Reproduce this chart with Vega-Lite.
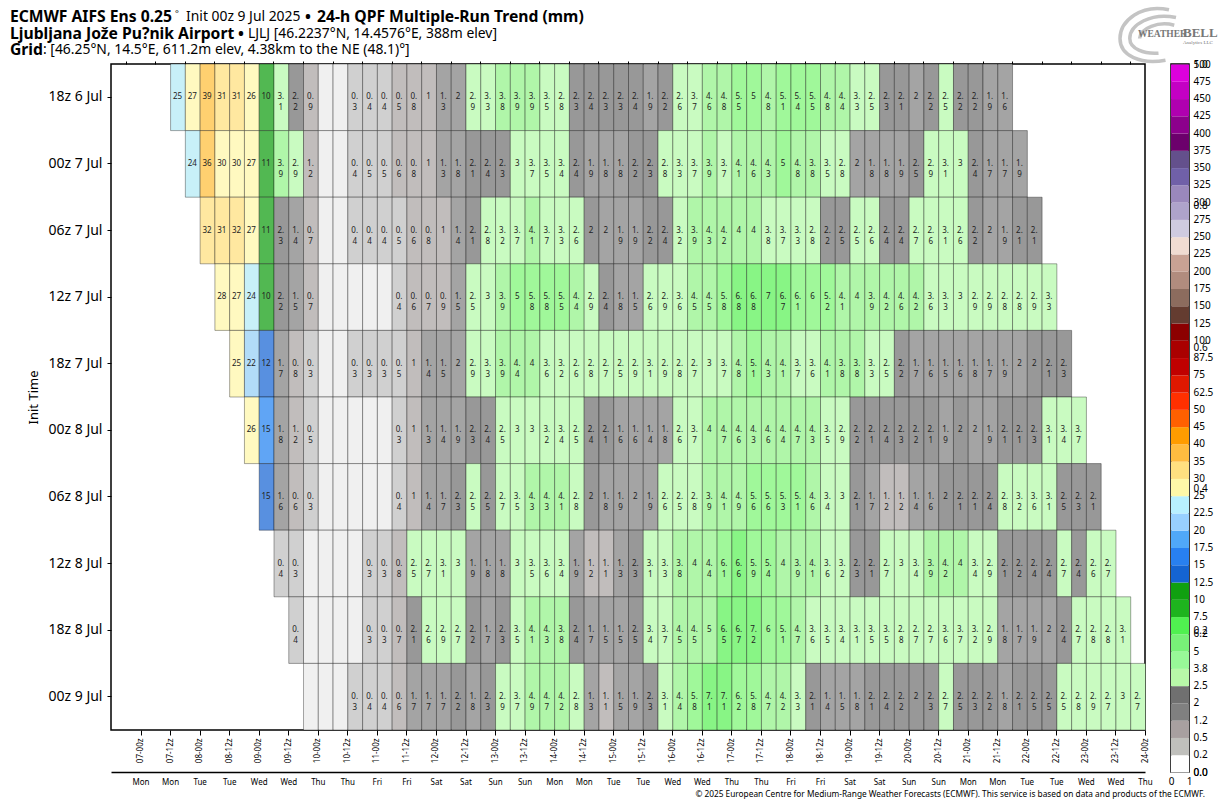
{"$schema":"https://vega.github.io/schema/vega-lite/v6.json","background":"white","padding":{"left":10,"top":1,"right":0,"bottom":0},"config":{"font":"Noto Sans","view":{"stroke":null},"axis":{"grid":false,"labelColor":"#000","tickColor":"#000","titleColor":"#000"}},"spacing":0,"bounds":"flush","vconcat":[
{"width":1115,"height":63,"view":{"stroke":null},"data":{"values":[
{"kind":"bold","txt":"ECMWF AIFS Ens 0.25","px":10,"py":16,"size":15.7},
{"kind":"plain","txt":"°","px":175,"py":13,"size":9},
{"kind":"plain","txt":"Init 00z 9 Jul 2025","px":186,"py":16,"size":13.9},
{"kind":"bold","txt":"•","px":305,"py":16,"size":15.7},
{"kind":"bold","txt":"24-h QPF Multiple-Run Trend (mm)","px":317,"py":16,"size":15.7},
{"kind":"bold","txt":"Ljubljana Jože Pu?nik Airport","px":10,"py":33,"size":15.7},
{"kind":"bold","txt":"•","px":238,"py":33,"size":15.7},
{"kind":"plain","txt":"LJLJ [46.2237°N, 14.4576°E, 388m elev]","px":248,"py":33,"size":13.9},
{"kind":"bold","txt":"Grid","px":10,"py":49,"size":15.7},
{"kind":"plain","txt":": [46.25°N, 14.5°E, 611.2m elev, 4.38km to the NE (48.1)°]","px":43,"py":49,"size":13.9},
{"kind":"logo","txt":"WEATHER","px":1138,"py":33,"size":9.5},
{"kind":"logo","txt":"BELL","px":1183,"py":32,"size":13},
{"kind":"logosmall","txt":"Analytics LLC","px":1183,"py":41,"size":5},
{"kind":"foot","txt":"© 2025 European Centre for Medium-Range Weather Forecasts (ECMWF). This service is based on data and products of the ECMWF.","px":1205,"py":794,"size":8.3}
]},"encoding":{"x":{"field":"px","type":"quantitative","scale":{"domain":[111,1226],"nice":false,"zero":false},"axis":null},"y":{"field":"py","type":"quantitative","scale":{"domain":[63,0],"nice":false,"zero":false},"axis":null},"size":{"field":"size","type":"quantitative","scale":null,"legend":null}},"layer":[
{"transform":[{"filter":"datum.kind=='bold'"}],"mark":{"type":"text","align":"left","baseline":"middle","fontWeight":"bold","color":"#000"},"encoding":{"text":{"field":"txt"}}},
{"transform":[{"filter":"datum.kind=='plain'"}],"mark":{"type":"text","align":"left","baseline":"middle","color":"#000"},"encoding":{"text":{"field":"txt"}}},
{"transform":[{"filter":"datum.kind=='foot'"}],"mark":{"type":"text","align":"right","baseline":"middle","color":"#000"},"encoding":{"text":{"field":"txt"}}},
{"data":{"values":[{"px":1155,"py":34}]},"mark":{"type":"point","filled":false,"stroke":"#c4c4c4","strokeWidth":3.5,"opacity":1,"shape":"M0.4,-0.72 C-0.4,-0.9 -1,-0.4 -1,0.1 C-1,0.6 -0.4,0.85 0.3,0.72 M0.6,-0.5 C-0.1,-0.65 -0.72,-0.3 -0.72,0.1 C-0.72,0.4 -0.3,0.55 0.1,0.52 M0.55,-0.28 C0.1,-0.4 -0.42,-0.2 -0.44,0.1"},"encoding":{"size":{"value":4900}}},
{"transform":[{"filter":"datum.kind=='logo'"}],"mark":{"type":"text","align":"left","baseline":"middle","font":"Liberation Serif","fontWeight":"bold","color":"#777"},"encoding":{"text":{"field":"txt"}}},
{"transform":[{"filter":"datum.kind=='logosmall'"}],"mark":{"type":"text","align":"left","baseline":"middle","font":"Liberation Serif","color":"#777"},"encoding":{"text":{"field":"txt"}}}
]},
{"bounds":"flush","spacing":26,"hconcat":[
{"width":1034,"height":666,"view":{"stroke":"#000","strokeWidth":1.5},"data":{"values":[
{"run":"18z 6 Jul","h":-36,"mm":24.6},{"run":"18z 6 Jul","h":-30,"mm":27},{"run":"18z 6 Jul","h":-24,"mm":39},{"run":"18z 6 Jul","h":-18,"mm":31},{"run":"18z 6 Jul","h":-12,"mm":31},{"run":"18z 6 Jul","h":-6,"mm":26},{"run":"18z 6 Jul","h":0,"mm":10},{"run":"18z 6 Jul","h":6,"mm":3.1},{"run":"18z 6 Jul","h":12,"mm":2.2},{"run":"18z 6 Jul","h":18,"mm":0.9},{"run":"18z 6 Jul","h":24,"mm":0.1},{"run":"18z 6 Jul","h":30,"mm":0.1},{"run":"18z 6 Jul","h":36,"mm":0.3},{"run":"18z 6 Jul","h":42,"mm":0.4},{"run":"18z 6 Jul","h":48,"mm":0.4},{"run":"18z 6 Jul","h":54,"mm":0.5},{"run":"18z 6 Jul","h":60,"mm":0.8},{"run":"18z 6 Jul","h":66,"mm":1},{"run":"18z 6 Jul","h":72,"mm":1.3},{"run":"18z 6 Jul","h":78,"mm":1.96},{"run":"18z 6 Jul","h":84,"mm":2.9},{"run":"18z 6 Jul","h":90,"mm":3.3},{"run":"18z 6 Jul","h":96,"mm":3.8},{"run":"18z 6 Jul","h":102,"mm":3.9},{"run":"18z 6 Jul","h":108,"mm":3.9},{"run":"18z 6 Jul","h":114,"mm":3.5},{"run":"18z 6 Jul","h":120,"mm":2.8},{"run":"18z 6 Jul","h":126,"mm":2.3},{"run":"18z 6 Jul","h":132,"mm":2.4},{"run":"18z 6 Jul","h":138,"mm":2.3},{"run":"18z 6 Jul","h":144,"mm":2.3},{"run":"18z 6 Jul","h":150,"mm":2.4},{"run":"18z 6 Jul","h":156,"mm":1.9},{"run":"18z 6 Jul","h":162,"mm":2.2},{"run":"18z 6 Jul","h":168,"mm":2.6},{"run":"18z 6 Jul","h":174,"mm":3.7},{"run":"18z 6 Jul","h":180,"mm":4.6},{"run":"18z 6 Jul","h":186,"mm":4.8},{"run":"18z 6 Jul","h":192,"mm":5.5},{"run":"18z 6 Jul","h":198,"mm":5},{"run":"18z 6 Jul","h":204,"mm":4.8},{"run":"18z 6 Jul","h":210,"mm":5.1},{"run":"18z 6 Jul","h":216,"mm":5.4},{"run":"18z 6 Jul","h":222,"mm":5.5},{"run":"18z 6 Jul","h":228,"mm":4.8},{"run":"18z 6 Jul","h":234,"mm":4.4},{"run":"18z 6 Jul","h":240,"mm":3.3},{"run":"18z 6 Jul","h":246,"mm":2.5},{"run":"18z 6 Jul","h":252,"mm":2.3},{"run":"18z 6 Jul","h":258,"mm":2.1},{"run":"18z 6 Jul","h":264,"mm":1.96},{"run":"18z 6 Jul","h":270,"mm":2.2},{"run":"18z 6 Jul","h":276,"mm":2.5},{"run":"18z 6 Jul","h":282,"mm":2.2},{"run":"18z 6 Jul","h":288,"mm":2.2},{"run":"18z 6 Jul","h":294,"mm":1.9},{"run":"18z 6 Jul","h":300,"mm":1.6},
{"run":"00z 7 Jul","h":-30,"mm":24},{"run":"00z 7 Jul","h":-24,"mm":36},{"run":"00z 7 Jul","h":-18,"mm":29.8},{"run":"00z 7 Jul","h":-12,"mm":29.8},{"run":"00z 7 Jul","h":-6,"mm":27},{"run":"00z 7 Jul","h":0,"mm":11},{"run":"00z 7 Jul","h":6,"mm":3.9},{"run":"00z 7 Jul","h":12,"mm":2.9},{"run":"00z 7 Jul","h":18,"mm":1.16},{"run":"00z 7 Jul","h":24,"mm":0.1},{"run":"00z 7 Jul","h":30,"mm":0.1},{"run":"00z 7 Jul","h":36,"mm":0.4},{"run":"00z 7 Jul","h":42,"mm":0.46},{"run":"00z 7 Jul","h":48,"mm":0.46},{"run":"00z 7 Jul","h":54,"mm":0.6},{"run":"00z 7 Jul","h":60,"mm":0.8},{"run":"00z 7 Jul","h":66,"mm":1},{"run":"00z 7 Jul","h":72,"mm":1.3},{"run":"00z 7 Jul","h":78,"mm":1.8},{"run":"00z 7 Jul","h":84,"mm":2.1},{"run":"00z 7 Jul","h":90,"mm":2.4},{"run":"00z 7 Jul","h":96,"mm":2.3},{"run":"00z 7 Jul","h":102,"mm":3},{"run":"00z 7 Jul","h":108,"mm":3.7},{"run":"00z 7 Jul","h":114,"mm":3.5},{"run":"00z 7 Jul","h":120,"mm":3.4},{"run":"00z 7 Jul","h":126,"mm":2.4},{"run":"00z 7 Jul","h":132,"mm":1.9},{"run":"00z 7 Jul","h":138,"mm":1.8},{"run":"00z 7 Jul","h":144,"mm":1.8},{"run":"00z 7 Jul","h":150,"mm":2.2},{"run":"00z 7 Jul","h":156,"mm":2.3},{"run":"00z 7 Jul","h":162,"mm":2.8},{"run":"00z 7 Jul","h":168,"mm":3.3},{"run":"00z 7 Jul","h":174,"mm":3.7},{"run":"00z 7 Jul","h":180,"mm":3.9},{"run":"00z 7 Jul","h":186,"mm":3.7},{"run":"00z 7 Jul","h":192,"mm":4.1},{"run":"00z 7 Jul","h":198,"mm":4.6},{"run":"00z 7 Jul","h":204,"mm":4.3},{"run":"00z 7 Jul","h":210,"mm":5},{"run":"00z 7 Jul","h":216,"mm":4.8},{"run":"00z 7 Jul","h":222,"mm":3.8},{"run":"00z 7 Jul","h":228,"mm":3.5},{"run":"00z 7 Jul","h":234,"mm":2.8},{"run":"00z 7 Jul","h":240,"mm":1.96},{"run":"00z 7 Jul","h":246,"mm":1.8},{"run":"00z 7 Jul","h":252,"mm":1.8},{"run":"00z 7 Jul","h":258,"mm":1.9},{"run":"00z 7 Jul","h":264,"mm":2.46},{"run":"00z 7 Jul","h":270,"mm":2.9},{"run":"00z 7 Jul","h":276,"mm":3.1},{"run":"00z 7 Jul","h":282,"mm":3},{"run":"00z 7 Jul","h":288,"mm":2.4},{"run":"00z 7 Jul","h":294,"mm":1.7},{"run":"00z 7 Jul","h":300,"mm":1.7},{"run":"00z 7 Jul","h":306,"mm":1.9},
{"run":"06z 7 Jul","h":-24,"mm":32},{"run":"06z 7 Jul","h":-18,"mm":31},{"run":"06z 7 Jul","h":-12,"mm":32},{"run":"06z 7 Jul","h":-6,"mm":27},{"run":"06z 7 Jul","h":0,"mm":11},{"run":"06z 7 Jul","h":6,"mm":2.3},{"run":"06z 7 Jul","h":12,"mm":1.4},{"run":"06z 7 Jul","h":18,"mm":0.7},{"run":"06z 7 Jul","h":24,"mm":0.1},{"run":"06z 7 Jul","h":30,"mm":0.1},{"run":"06z 7 Jul","h":36,"mm":0.4},{"run":"06z 7 Jul","h":42,"mm":0.4},{"run":"06z 7 Jul","h":48,"mm":0.4},{"run":"06z 7 Jul","h":54,"mm":0.46},{"run":"06z 7 Jul","h":60,"mm":0.6},{"run":"06z 7 Jul","h":66,"mm":0.8},{"run":"06z 7 Jul","h":72,"mm":1},{"run":"06z 7 Jul","h":78,"mm":1.4},{"run":"06z 7 Jul","h":84,"mm":2.1},{"run":"06z 7 Jul","h":90,"mm":2.8},{"run":"06z 7 Jul","h":96,"mm":3.2},{"run":"06z 7 Jul","h":102,"mm":3.7},{"run":"06z 7 Jul","h":108,"mm":4.1},{"run":"06z 7 Jul","h":114,"mm":3.7},{"run":"06z 7 Jul","h":120,"mm":3.3},{"run":"06z 7 Jul","h":126,"mm":2.6},{"run":"06z 7 Jul","h":132,"mm":2},{"run":"06z 7 Jul","h":138,"mm":1.96},{"run":"06z 7 Jul","h":144,"mm":1.9},{"run":"06z 7 Jul","h":150,"mm":1.9},{"run":"06z 7 Jul","h":156,"mm":2.2},{"run":"06z 7 Jul","h":162,"mm":2.4},{"run":"06z 7 Jul","h":168,"mm":3.2},{"run":"06z 7 Jul","h":174,"mm":3.9},{"run":"06z 7 Jul","h":180,"mm":4.3},{"run":"06z 7 Jul","h":186,"mm":4.2},{"run":"06z 7 Jul","h":192,"mm":4},{"run":"06z 7 Jul","h":198,"mm":4},{"run":"06z 7 Jul","h":204,"mm":3.76},{"run":"06z 7 Jul","h":210,"mm":3.7},{"run":"06z 7 Jul","h":216,"mm":3.3},{"run":"06z 7 Jul","h":222,"mm":2.8},{"run":"06z 7 Jul","h":228,"mm":2.2},{"run":"06z 7 Jul","h":234,"mm":2.46},{"run":"06z 7 Jul","h":240,"mm":2.5},{"run":"06z 7 Jul","h":246,"mm":2.6},{"run":"06z 7 Jul","h":252,"mm":2.4},{"run":"06z 7 Jul","h":258,"mm":2.4},{"run":"06z 7 Jul","h":264,"mm":2.7},{"run":"06z 7 Jul","h":270,"mm":2.6},{"run":"06z 7 Jul","h":276,"mm":3.1},{"run":"06z 7 Jul","h":282,"mm":2.6},{"run":"06z 7 Jul","h":288,"mm":2.2},{"run":"06z 7 Jul","h":294,"mm":1.96},{"run":"06z 7 Jul","h":300,"mm":1.9},{"run":"06z 7 Jul","h":306,"mm":2.1},{"run":"06z 7 Jul","h":312,"mm":2.1},
{"run":"12z 7 Jul","h":-18,"mm":28},{"run":"12z 7 Jul","h":-12,"mm":27},{"run":"12z 7 Jul","h":-6,"mm":24},{"run":"12z 7 Jul","h":0,"mm":10},{"run":"12z 7 Jul","h":6,"mm":2.2},{"run":"12z 7 Jul","h":12,"mm":1.5},{"run":"12z 7 Jul","h":18,"mm":0.7},{"run":"12z 7 Jul","h":24,"mm":0.1},{"run":"12z 7 Jul","h":30,"mm":0.1},{"run":"12z 7 Jul","h":36,"mm":0.1},{"run":"12z 7 Jul","h":42,"mm":0.1},{"run":"12z 7 Jul","h":48,"mm":0.1},{"run":"12z 7 Jul","h":54,"mm":0.4},{"run":"12z 7 Jul","h":60,"mm":0.6},{"run":"12z 7 Jul","h":66,"mm":0.7},{"run":"12z 7 Jul","h":72,"mm":0.9},{"run":"12z 7 Jul","h":78,"mm":1.5},{"run":"12z 7 Jul","h":84,"mm":2.5},{"run":"12z 7 Jul","h":90,"mm":3},{"run":"12z 7 Jul","h":96,"mm":3.9},{"run":"12z 7 Jul","h":102,"mm":5},{"run":"12z 7 Jul","h":108,"mm":5.8},{"run":"12z 7 Jul","h":114,"mm":5.8},{"run":"12z 7 Jul","h":120,"mm":5.5},{"run":"12z 7 Jul","h":126,"mm":4.4},{"run":"12z 7 Jul","h":132,"mm":2.9},{"run":"12z 7 Jul","h":138,"mm":2.4},{"run":"12z 7 Jul","h":144,"mm":1.8},{"run":"12z 7 Jul","h":150,"mm":1.5},{"run":"12z 7 Jul","h":156,"mm":2.6},{"run":"12z 7 Jul","h":162,"mm":2.9},{"run":"12z 7 Jul","h":168,"mm":3.6},{"run":"12z 7 Jul","h":174,"mm":4.5},{"run":"12z 7 Jul","h":180,"mm":4.5},{"run":"12z 7 Jul","h":186,"mm":5.8},{"run":"12z 7 Jul","h":192,"mm":6.8},{"run":"12z 7 Jul","h":198,"mm":6.8},{"run":"12z 7 Jul","h":204,"mm":7},{"run":"12z 7 Jul","h":210,"mm":6.7},{"run":"12z 7 Jul","h":216,"mm":6.1},{"run":"12z 7 Jul","h":222,"mm":6},{"run":"12z 7 Jul","h":228,"mm":5.2},{"run":"12z 7 Jul","h":234,"mm":4.1},{"run":"12z 7 Jul","h":240,"mm":4},{"run":"12z 7 Jul","h":246,"mm":3.9},{"run":"12z 7 Jul","h":252,"mm":4.2},{"run":"12z 7 Jul","h":258,"mm":4.6},{"run":"12z 7 Jul","h":264,"mm":4.2},{"run":"12z 7 Jul","h":270,"mm":3.6},{"run":"12z 7 Jul","h":276,"mm":3.3},{"run":"12z 7 Jul","h":282,"mm":3},{"run":"12z 7 Jul","h":288,"mm":2.9},{"run":"12z 7 Jul","h":294,"mm":2.9},{"run":"12z 7 Jul","h":300,"mm":2.8},{"run":"12z 7 Jul","h":306,"mm":2.8},{"run":"12z 7 Jul","h":312,"mm":2.9},{"run":"12z 7 Jul","h":318,"mm":3.3},
{"run":"18z 7 Jul","h":-12,"mm":25},{"run":"18z 7 Jul","h":-6,"mm":22},{"run":"18z 7 Jul","h":0,"mm":12},{"run":"18z 7 Jul","h":6,"mm":1.7},{"run":"18z 7 Jul","h":12,"mm":0.8},{"run":"18z 7 Jul","h":18,"mm":0.3},{"run":"18z 7 Jul","h":24,"mm":0.1},{"run":"18z 7 Jul","h":30,"mm":0.1},{"run":"18z 7 Jul","h":36,"mm":0.3},{"run":"18z 7 Jul","h":42,"mm":0.3},{"run":"18z 7 Jul","h":48,"mm":0.3},{"run":"18z 7 Jul","h":54,"mm":0.46},{"run":"18z 7 Jul","h":60,"mm":1},{"run":"18z 7 Jul","h":66,"mm":1.4},{"run":"18z 7 Jul","h":72,"mm":1.5},{"run":"18z 7 Jul","h":78,"mm":1.96},{"run":"18z 7 Jul","h":84,"mm":2.9},{"run":"18z 7 Jul","h":90,"mm":3.3},{"run":"18z 7 Jul","h":96,"mm":3.9},{"run":"18z 7 Jul","h":102,"mm":4.4},{"run":"18z 7 Jul","h":108,"mm":4},{"run":"18z 7 Jul","h":114,"mm":3.6},{"run":"18z 7 Jul","h":120,"mm":3.2},{"run":"18z 7 Jul","h":126,"mm":2.6},{"run":"18z 7 Jul","h":132,"mm":2.8},{"run":"18z 7 Jul","h":138,"mm":2.7},{"run":"18z 7 Jul","h":144,"mm":2.5},{"run":"18z 7 Jul","h":150,"mm":2.9},{"run":"18z 7 Jul","h":156,"mm":3.1},{"run":"18z 7 Jul","h":162,"mm":2.9},{"run":"18z 7 Jul","h":168,"mm":2.8},{"run":"18z 7 Jul","h":174,"mm":2.7},{"run":"18z 7 Jul","h":180,"mm":3},{"run":"18z 7 Jul","h":186,"mm":3.7},{"run":"18z 7 Jul","h":192,"mm":4.8},{"run":"18z 7 Jul","h":198,"mm":5.1},{"run":"18z 7 Jul","h":204,"mm":4.3},{"run":"18z 7 Jul","h":210,"mm":4.1},{"run":"18z 7 Jul","h":216,"mm":3.7},{"run":"18z 7 Jul","h":222,"mm":3.6},{"run":"18z 7 Jul","h":228,"mm":4.1},{"run":"18z 7 Jul","h":234,"mm":3.8},{"run":"18z 7 Jul","h":240,"mm":3.8},{"run":"18z 7 Jul","h":246,"mm":3.3},{"run":"18z 7 Jul","h":252,"mm":2.5},{"run":"18z 7 Jul","h":258,"mm":2.2},{"run":"18z 7 Jul","h":264,"mm":1.7},{"run":"18z 7 Jul","h":270,"mm":1.6},{"run":"18z 7 Jul","h":276,"mm":1.5},{"run":"18z 7 Jul","h":282,"mm":1.6},{"run":"18z 7 Jul","h":288,"mm":1.8},{"run":"18z 7 Jul","h":294,"mm":1.7},{"run":"18z 7 Jul","h":300,"mm":1.9},{"run":"18z 7 Jul","h":306,"mm":1.96},{"run":"18z 7 Jul","h":312,"mm":2},{"run":"18z 7 Jul","h":318,"mm":2.1},{"run":"18z 7 Jul","h":324,"mm":2.3},
{"run":"00z 8 Jul","h":-6,"mm":26},{"run":"00z 8 Jul","h":0,"mm":15.2},{"run":"00z 8 Jul","h":6,"mm":1.8},{"run":"00z 8 Jul","h":12,"mm":1.16},{"run":"00z 8 Jul","h":18,"mm":0.46},{"run":"00z 8 Jul","h":24,"mm":0.1},{"run":"00z 8 Jul","h":30,"mm":0.1},{"run":"00z 8 Jul","h":36,"mm":0.1},{"run":"00z 8 Jul","h":42,"mm":0.1},{"run":"00z 8 Jul","h":48,"mm":0.1},{"run":"00z 8 Jul","h":54,"mm":0.3},{"run":"00z 8 Jul","h":60,"mm":1},{"run":"00z 8 Jul","h":66,"mm":1.3},{"run":"00z 8 Jul","h":72,"mm":1.4},{"run":"00z 8 Jul","h":78,"mm":1.9},{"run":"00z 8 Jul","h":84,"mm":2.3},{"run":"00z 8 Jul","h":90,"mm":2.4},{"run":"00z 8 Jul","h":96,"mm":2.5},{"run":"00z 8 Jul","h":102,"mm":3},{"run":"00z 8 Jul","h":108,"mm":3},{"run":"00z 8 Jul","h":114,"mm":3.2},{"run":"00z 8 Jul","h":120,"mm":3.4},{"run":"00z 8 Jul","h":126,"mm":2.5},{"run":"00z 8 Jul","h":132,"mm":2.4},{"run":"00z 8 Jul","h":138,"mm":2.1},{"run":"00z 8 Jul","h":144,"mm":1.6},{"run":"00z 8 Jul","h":150,"mm":1.6},{"run":"00z 8 Jul","h":156,"mm":1.4},{"run":"00z 8 Jul","h":162,"mm":1.8},{"run":"00z 8 Jul","h":168,"mm":2.6},{"run":"00z 8 Jul","h":174,"mm":3.7},{"run":"00z 8 Jul","h":180,"mm":4},{"run":"00z 8 Jul","h":186,"mm":4.7},{"run":"00z 8 Jul","h":192,"mm":4.6},{"run":"00z 8 Jul","h":198,"mm":4.3},{"run":"00z 8 Jul","h":204,"mm":4.6},{"run":"00z 8 Jul","h":210,"mm":4.4},{"run":"00z 8 Jul","h":216,"mm":4.7},{"run":"00z 8 Jul","h":222,"mm":4.3},{"run":"00z 8 Jul","h":228,"mm":3.5},{"run":"00z 8 Jul","h":234,"mm":2.9},{"run":"00z 8 Jul","h":240,"mm":2.2},{"run":"00z 8 Jul","h":246,"mm":2.1},{"run":"00z 8 Jul","h":252,"mm":2.4},{"run":"00z 8 Jul","h":258,"mm":2.3},{"run":"00z 8 Jul","h":264,"mm":2.2},{"run":"00z 8 Jul","h":270,"mm":2.1},{"run":"00z 8 Jul","h":276,"mm":1.9},{"run":"00z 8 Jul","h":282,"mm":2},{"run":"00z 8 Jul","h":288,"mm":1.96},{"run":"00z 8 Jul","h":294,"mm":1.9},{"run":"00z 8 Jul","h":300,"mm":2.1},{"run":"00z 8 Jul","h":306,"mm":2.1},{"run":"00z 8 Jul","h":312,"mm":2.3},{"run":"00z 8 Jul","h":318,"mm":3.1},{"run":"00z 8 Jul","h":324,"mm":3.4},{"run":"00z 8 Jul","h":330,"mm":3.7},
{"run":"06z 8 Jul","h":0,"mm":14.8},{"run":"06z 8 Jul","h":6,"mm":1.6},{"run":"06z 8 Jul","h":12,"mm":0.6},{"run":"06z 8 Jul","h":18,"mm":0.3},{"run":"06z 8 Jul","h":24,"mm":0.1},{"run":"06z 8 Jul","h":30,"mm":0.1},{"run":"06z 8 Jul","h":36,"mm":0.1},{"run":"06z 8 Jul","h":42,"mm":0.1},{"run":"06z 8 Jul","h":48,"mm":0.1},{"run":"06z 8 Jul","h":54,"mm":0.4},{"run":"06z 8 Jul","h":60,"mm":1},{"run":"06z 8 Jul","h":66,"mm":1.4},{"run":"06z 8 Jul","h":72,"mm":1.7},{"run":"06z 8 Jul","h":78,"mm":2.3},{"run":"06z 8 Jul","h":84,"mm":2.5},{"run":"06z 8 Jul","h":90,"mm":2.46},{"run":"06z 8 Jul","h":96,"mm":2.7},{"run":"06z 8 Jul","h":102,"mm":3.5},{"run":"06z 8 Jul","h":108,"mm":4.3},{"run":"06z 8 Jul","h":114,"mm":4.3},{"run":"06z 8 Jul","h":120,"mm":4.1},{"run":"06z 8 Jul","h":126,"mm":2.8},{"run":"06z 8 Jul","h":132,"mm":2},{"run":"06z 8 Jul","h":138,"mm":1.8},{"run":"06z 8 Jul","h":144,"mm":1.9},{"run":"06z 8 Jul","h":150,"mm":1.96},{"run":"06z 8 Jul","h":156,"mm":1.9},{"run":"06z 8 Jul","h":162,"mm":2.6},{"run":"06z 8 Jul","h":168,"mm":2.5},{"run":"06z 8 Jul","h":174,"mm":2.8},{"run":"06z 8 Jul","h":180,"mm":3.9},{"run":"06z 8 Jul","h":186,"mm":4.1},{"run":"06z 8 Jul","h":192,"mm":4.9},{"run":"06z 8 Jul","h":198,"mm":5.6},{"run":"06z 8 Jul","h":204,"mm":5.6},{"run":"06z 8 Jul","h":210,"mm":5.3},{"run":"06z 8 Jul","h":216,"mm":5.1},{"run":"06z 8 Jul","h":222,"mm":4.6},{"run":"06z 8 Jul","h":228,"mm":3.4},{"run":"06z 8 Jul","h":234,"mm":3},{"run":"06z 8 Jul","h":240,"mm":2.1},{"run":"06z 8 Jul","h":246,"mm":1.7},{"run":"06z 8 Jul","h":252,"mm":1.16},{"run":"06z 8 Jul","h":258,"mm":1.16},{"run":"06z 8 Jul","h":264,"mm":1.4},{"run":"06z 8 Jul","h":270,"mm":1.6},{"run":"06z 8 Jul","h":276,"mm":2},{"run":"06z 8 Jul","h":282,"mm":2.1},{"run":"06z 8 Jul","h":288,"mm":2.1},{"run":"06z 8 Jul","h":294,"mm":2.4},{"run":"06z 8 Jul","h":300,"mm":2.8},{"run":"06z 8 Jul","h":306,"mm":3.2},{"run":"06z 8 Jul","h":312,"mm":3.6},{"run":"06z 8 Jul","h":318,"mm":3.1},{"run":"06z 8 Jul","h":324,"mm":2.46},{"run":"06z 8 Jul","h":330,"mm":2.3},{"run":"06z 8 Jul","h":336,"mm":2.1},
{"run":"12z 8 Jul","h":6,"mm":0.4},{"run":"12z 8 Jul","h":12,"mm":0.3},{"run":"12z 8 Jul","h":18,"mm":0.1},{"run":"12z 8 Jul","h":24,"mm":0.1},{"run":"12z 8 Jul","h":30,"mm":0.1},{"run":"12z 8 Jul","h":36,"mm":0.1},{"run":"12z 8 Jul","h":42,"mm":0.3},{"run":"12z 8 Jul","h":48,"mm":0.3},{"run":"12z 8 Jul","h":54,"mm":0.8},{"run":"12z 8 Jul","h":60,"mm":2.5},{"run":"12z 8 Jul","h":66,"mm":2.7},{"run":"12z 8 Jul","h":72,"mm":3.1},{"run":"12z 8 Jul","h":78,"mm":3},{"run":"12z 8 Jul","h":84,"mm":1.9},{"run":"12z 8 Jul","h":90,"mm":1.8},{"run":"12z 8 Jul","h":96,"mm":1.8},{"run":"12z 8 Jul","h":102,"mm":3},{"run":"12z 8 Jul","h":108,"mm":3.5},{"run":"12z 8 Jul","h":114,"mm":3.6},{"run":"12z 8 Jul","h":120,"mm":3.4},{"run":"12z 8 Jul","h":126,"mm":1.9},{"run":"12z 8 Jul","h":132,"mm":1.16},{"run":"12z 8 Jul","h":138,"mm":1.1},{"run":"12z 8 Jul","h":144,"mm":1.3},{"run":"12z 8 Jul","h":150,"mm":2.3},{"run":"12z 8 Jul","h":156,"mm":3.1},{"run":"12z 8 Jul","h":162,"mm":3.3},{"run":"12z 8 Jul","h":168,"mm":3.8},{"run":"12z 8 Jul","h":174,"mm":4},{"run":"12z 8 Jul","h":180,"mm":4.4},{"run":"12z 8 Jul","h":186,"mm":6.1},{"run":"12z 8 Jul","h":192,"mm":6.6},{"run":"12z 8 Jul","h":198,"mm":5.9},{"run":"12z 8 Jul","h":204,"mm":5.4},{"run":"12z 8 Jul","h":210,"mm":4},{"run":"12z 8 Jul","h":216,"mm":3.9},{"run":"12z 8 Jul","h":222,"mm":4.1},{"run":"12z 8 Jul","h":228,"mm":3.6},{"run":"12z 8 Jul","h":234,"mm":3.2},{"run":"12z 8 Jul","h":240,"mm":2.3},{"run":"12z 8 Jul","h":246,"mm":2.1},{"run":"12z 8 Jul","h":252,"mm":2.7},{"run":"12z 8 Jul","h":258,"mm":3},{"run":"12z 8 Jul","h":264,"mm":3.4},{"run":"12z 8 Jul","h":270,"mm":3.9},{"run":"12z 8 Jul","h":276,"mm":4.2},{"run":"12z 8 Jul","h":282,"mm":4},{"run":"12z 8 Jul","h":288,"mm":3.4},{"run":"12z 8 Jul","h":294,"mm":2.9},{"run":"12z 8 Jul","h":300,"mm":2.1},{"run":"12z 8 Jul","h":306,"mm":2.2},{"run":"12z 8 Jul","h":312,"mm":2.4},{"run":"12z 8 Jul","h":318,"mm":2.4},{"run":"12z 8 Jul","h":324,"mm":2.7},{"run":"12z 8 Jul","h":330,"mm":2.4},{"run":"12z 8 Jul","h":336,"mm":2.6},{"run":"12z 8 Jul","h":342,"mm":2.7},
{"run":"18z 8 Jul","h":12,"mm":0.4},{"run":"18z 8 Jul","h":18,"mm":0.1},{"run":"18z 8 Jul","h":24,"mm":0.1},{"run":"18z 8 Jul","h":30,"mm":0.1},{"run":"18z 8 Jul","h":36,"mm":0.1},{"run":"18z 8 Jul","h":42,"mm":0.3},{"run":"18z 8 Jul","h":48,"mm":0.3},{"run":"18z 8 Jul","h":54,"mm":0.7},{"run":"18z 8 Jul","h":60,"mm":2.1},{"run":"18z 8 Jul","h":66,"mm":2.6},{"run":"18z 8 Jul","h":72,"mm":2.9},{"run":"18z 8 Jul","h":78,"mm":2.7},{"run":"18z 8 Jul","h":84,"mm":2.2},{"run":"18z 8 Jul","h":90,"mm":1.7},{"run":"18z 8 Jul","h":96,"mm":2.3},{"run":"18z 8 Jul","h":102,"mm":3.5},{"run":"18z 8 Jul","h":108,"mm":4.1},{"run":"18z 8 Jul","h":114,"mm":4.3},{"run":"18z 8 Jul","h":120,"mm":3.8},{"run":"18z 8 Jul","h":126,"mm":2.4},{"run":"18z 8 Jul","h":132,"mm":1.7},{"run":"18z 8 Jul","h":138,"mm":1.5},{"run":"18z 8 Jul","h":144,"mm":1.5},{"run":"18z 8 Jul","h":150,"mm":2.46},{"run":"18z 8 Jul","h":156,"mm":3.4},{"run":"18z 8 Jul","h":162,"mm":3.7},{"run":"18z 8 Jul","h":168,"mm":4.5},{"run":"18z 8 Jul","h":174,"mm":4.5},{"run":"18z 8 Jul","h":180,"mm":4.96},{"run":"18z 8 Jul","h":186,"mm":6.5},{"run":"18z 8 Jul","h":192,"mm":6.7},{"run":"18z 8 Jul","h":198,"mm":7.2},{"run":"18z 8 Jul","h":204,"mm":6},{"run":"18z 8 Jul","h":210,"mm":5.1},{"run":"18z 8 Jul","h":216,"mm":4.7},{"run":"18z 8 Jul","h":222,"mm":3.6},{"run":"18z 8 Jul","h":228,"mm":3.5},{"run":"18z 8 Jul","h":234,"mm":3.4},{"run":"18z 8 Jul","h":240,"mm":3.1},{"run":"18z 8 Jul","h":246,"mm":3.5},{"run":"18z 8 Jul","h":252,"mm":3.5},{"run":"18z 8 Jul","h":258,"mm":2.8},{"run":"18z 8 Jul","h":264,"mm":2.7},{"run":"18z 8 Jul","h":270,"mm":2.7},{"run":"18z 8 Jul","h":276,"mm":3.6},{"run":"18z 8 Jul","h":282,"mm":3.7},{"run":"18z 8 Jul","h":288,"mm":3.2},{"run":"18z 8 Jul","h":294,"mm":2.9},{"run":"18z 8 Jul","h":300,"mm":1.8},{"run":"18z 8 Jul","h":306,"mm":1.7},{"run":"18z 8 Jul","h":312,"mm":1.9},{"run":"18z 8 Jul","h":318,"mm":1.96},{"run":"18z 8 Jul","h":324,"mm":2.4},{"run":"18z 8 Jul","h":330,"mm":2.7},{"run":"18z 8 Jul","h":336,"mm":2.8},{"run":"18z 8 Jul","h":342,"mm":2.8},{"run":"18z 8 Jul","h":348,"mm":3.1},
{"run":"00z 9 Jul","h":18,"mm":0.1},{"run":"00z 9 Jul","h":24,"mm":0.1},{"run":"00z 9 Jul","h":30,"mm":0.1},{"run":"00z 9 Jul","h":36,"mm":0.3},{"run":"00z 9 Jul","h":42,"mm":0.4},{"run":"00z 9 Jul","h":48,"mm":0.4},{"run":"00z 9 Jul","h":54,"mm":0.6},{"run":"00z 9 Jul","h":60,"mm":1.7},{"run":"00z 9 Jul","h":66,"mm":1.7},{"run":"00z 9 Jul","h":72,"mm":1.7},{"run":"00z 9 Jul","h":78,"mm":2.2},{"run":"00z 9 Jul","h":84,"mm":1.8},{"run":"00z 9 Jul","h":90,"mm":2.3},{"run":"00z 9 Jul","h":96,"mm":2.9},{"run":"00z 9 Jul","h":102,"mm":3.7},{"run":"00z 9 Jul","h":108,"mm":4.9},{"run":"00z 9 Jul","h":114,"mm":4.7},{"run":"00z 9 Jul","h":120,"mm":4.2},{"run":"00z 9 Jul","h":126,"mm":2.8},{"run":"00z 9 Jul","h":132,"mm":1.3},{"run":"00z 9 Jul","h":138,"mm":1.1},{"run":"00z 9 Jul","h":144,"mm":1.5},{"run":"00z 9 Jul","h":150,"mm":1.9},{"run":"00z 9 Jul","h":156,"mm":2.3},{"run":"00z 9 Jul","h":162,"mm":3.1},{"run":"00z 9 Jul","h":168,"mm":4.4},{"run":"00z 9 Jul","h":174,"mm":5.8},{"run":"00z 9 Jul","h":180,"mm":7.1},{"run":"00z 9 Jul","h":186,"mm":7.1},{"run":"00z 9 Jul","h":192,"mm":6.16},{"run":"00z 9 Jul","h":198,"mm":5.8},{"run":"00z 9 Jul","h":204,"mm":4.7},{"run":"00z 9 Jul","h":210,"mm":4.2},{"run":"00z 9 Jul","h":216,"mm":3.3},{"run":"00z 9 Jul","h":222,"mm":2.1},{"run":"00z 9 Jul","h":228,"mm":1.4},{"run":"00z 9 Jul","h":234,"mm":1.5},{"run":"00z 9 Jul","h":240,"mm":1.8},{"run":"00z 9 Jul","h":246,"mm":2.1},{"run":"00z 9 Jul","h":252,"mm":2.4},{"run":"00z 9 Jul","h":258,"mm":2.2},{"run":"00z 9 Jul","h":264,"mm":2},{"run":"00z 9 Jul","h":270,"mm":2.3},{"run":"00z 9 Jul","h":276,"mm":2.7},{"run":"00z 9 Jul","h":282,"mm":2.46},{"run":"00z 9 Jul","h":288,"mm":2.3},{"run":"00z 9 Jul","h":294,"mm":2.2},{"run":"00z 9 Jul","h":300,"mm":1.8},{"run":"00z 9 Jul","h":306,"mm":2.1},{"run":"00z 9 Jul","h":312,"mm":2.46},{"run":"00z 9 Jul","h":318,"mm":2.46},{"run":"00z 9 Jul","h":324,"mm":2.5},{"run":"00z 9 Jul","h":330,"mm":2.8},{"run":"00z 9 Jul","h":336,"mm":2.9},{"run":"00z 9 Jul","h":342,"mm":2.7},{"run":"00z 9 Jul","h":348,"mm":3},{"run":"00z 9 Jul","h":354,"mm":2.7}
]},"resolve":{"axis":{"x":"independent"}},"encoding":{"y":{"field":"run","type":"nominal","scale":{"domain":["18z 6 Jul","00z 7 Jul","06z 7 Jul","12z 7 Jul","18z 7 Jul","00z 8 Jul","06z 8 Jul","12z 8 Jul","18z 8 Jul","00z 9 Jul"],"paddingInner":0,"paddingOuter":0},"axis":{"title":"Init Time","titleFontSize":13,"titleFontWeight":"normal","titlePadding":8,"labelFontSize":14,"tickSize":4,"tickWidth":1,"domain":false,"labelPadding":5}}},"layer":[
{"mark":{"type":"rect","stroke":"#000","strokeOpacity":0.35,"strokeWidth":1,"binSpacing":0},"encoding":{"x":{"field":"h","type":"quantitative","bin":{"step":6,"extent":[-60,360]},"scale":{"domain":[-60,360],"nice":false,"zero":false},"axis":{"title":null,"values":[-48,-36,-24,-12,0,12,24,36,48,60,72,84,96,108,120,132,144,156,168,180,192,204,216,228,240,252,264,276,288,300,312,324,336,348,360],"labelExpr":"utcFormat(utc(2025,6,9,datum.value),'%d-%Hz')","labelAngle":-90,"labelFontSize":8,"tickSize":5,"tickWidth":1,"domain":false,"labelPadding":3,"labelOverlap":false,"labelFlush":false}},"color":{"field":"mm","type":"quantitative","legend":null,"scale":{"type":"threshold","domain":[0.2,0.5,1.2,2,2.5,3.8,5,6.2,7.5,10,12,15,17.5,20,22.5,25,30,35,40],"range":["#f0f0f0","#d0d0d0","#c1bdbc","#a4a4a4","#989898","#c9fbc1","#b0f6a9","#a0f89a","#88f585","#70e070","#52b852","#5890e0","#60a5f5","#7abcf8","#b2dcf8","#c8f0f8","#fff9c0","#ffe8a0","#ffd070","#ffc000"]}}}},
{"transform":[{"filter":"datum.mm>=0.2"},{"calculate":"datum.mm>=10?format(datum.mm,'d'):replace(replace(format(datum.mm,'.1f'),'.0',''),'.','.|')","as":"lab"}],"mark":{"type":"text","fontSize":8,"lineBreak":"|","lineHeight":11,"color":"#222","baseline":"middle"},"encoding":{"x":{"field":"h","type":"quantitative","bin":{"step":6,"extent":[-60,360]},"scale":{"domain":[-60,360],"nice":false,"zero":false},"axis":{"title":null,"orient":"bottom","offset":42,"values":[-48,-36,-24,-12,0,12,24,36,48,60,72,84,96,108,120,132,144,156,168,180,192,204,216,228,240,252,264,276,288,300,312,324,336,348,360],"labelExpr":"utcFormat(utc(2025,6,9,datum.value),'%a')","labelAngle":0,"labelFontSize":8,"ticks":false,"domain":true,"domainColor":"#000","domainWidth":1.5,"labelPadding":6,"labelOverlap":false,"labelFlush":false}},"text":{"field":"lab"}}},
{"mark":{"type":"rule","color":"#000","strokeWidth":3},"encoding":{"x":{"datum":0,"type":"quantitative","scale":{"domain":[-60,360],"nice":false,"zero":false},"axis":{"title":null,"values":[-54,-42,-30,-18,-6,6,18,30,42,54,66,78,90,102,114,126,138,150,162,174,186,198,210,222,234,246,258,270,282,294,306,318,330,342,354],"labels":false,"tickSize":3,"tickWidth":1,"domain":false}}}}
]},
{"width":18,"height":708,"view":{"stroke":"#000","strokeWidth":1.5},"resolve":{"scale":{"y":"independent"},"axis":{"y":"independent"}},"layer":[
{"data":{"values":[{"i":0},{"i":1},{"i":2},{"i":3},{"i":4},{"i":5},{"i":6},{"i":7},{"i":8},{"i":9},{"i":10},{"i":11},{"i":12},{"i":13},{"i":14},{"i":15},{"i":16},{"i":17},{"i":18},{"i":19},{"i":20},{"i":21},{"i":22},{"i":23},{"i":24},{"i":25},{"i":26},{"i":27},{"i":28},{"i":29},{"i":30},{"i":31},{"i":32},{"i":33},{"i":34},{"i":35},{"i":36},{"i":37},{"i":38},{"i":39},{"i":40}]},"mark":{"type":"rect","binSpacing":0},"encoding":{"x":{"datum":0,"type":"quantitative","scale":{"domain":[0,1],"nice":false,"zero":false},"axis":{"title":null,"values":[0,1],"format":"d","ticks":false,"domain":false,"labelFontSize":10,"labelPadding":4,"labelFlush":false}},"x2":{"datum":1},"y":{"field":"i","type":"quantitative","bin":{"step":1,"extent":[0,41]},"scale":{"domain":[0,41],"nice":false,"zero":false},"axis":{"orient":"right","title":null,"values":[0,1,2,3,4,5,6,7,8,9,10,11,12,13,14,15,16,17,18,19,20,21,22,23,24,25,26,27,28,29,30,31,32,33,34,35,36,37,38,39,40,41],"labelExpr":"['0.0','0.2','0.5','1.2','2','2.5','3.8','5','6.2','7.5','10','12.5','15','17.5','20','22.5','25','30','35','40','45','50','62.5','75','87.5','100','125','150','175','200','225','250','275','300','325','350','375','400','425','450','475','500'][datum.value]","ticks":false,"domain":false,"labelFontSize":10,"labelPadding":4,"labelOverlap":false,"labelFlush":false}},"color":{"field":"i","type":"ordinal","legend":null,"scale":{"domain":[0,1,2,3,4,5,6,7,8,9,10,11,12,13,14,15,16,17,18,19,20,21,22,23,24,25,26,27,28,29,30,31,32,33,34,35,36,37,38,39,40],"range":["#ffffff","#c0c0bc","#a8a0a0","#808080","#707070","#b8f8a8","#98f898","#78f078","#50f050","#1eb41e","#10a010","#1464d2","#2880f0","#50a8f8","#98d0ff","#b8f0ff","#fff8a8","#ffe080","#ffbc40","#ff9c00","#ff6000","#ff3000","#e01800","#c00000","#aa0000","#8c0000","#643c30","#8c6c5e","#b18c7e","#c8a294","#f0dcd2","#cfcbe0","#aea3cb","#9a88bc","#7060a8","#64508c","#6c006c","#8c008c","#b000b0","#c400c4","#dd00dd"]}}}},
{"data":{"values":[{"f":0},{"f":0.2},{"f":0.4},{"f":0.6},{"f":0.8},{"f":1}]},"mark":{"type":"tick","opacity":0},"encoding":{"y":{"field":"f","type":"quantitative","scale":{"domain":[0,1],"nice":false,"zero":false},"axis":{"orient":"right","title":null,"values":[0,0.2,0.4,0.6,0.8,1],"format":".1f","ticks":false,"domain":false,"labelFontSize":10,"labelPadding":4,"labelOverlap":false,"labelFlush":false}}}}
]}
]}
]}
